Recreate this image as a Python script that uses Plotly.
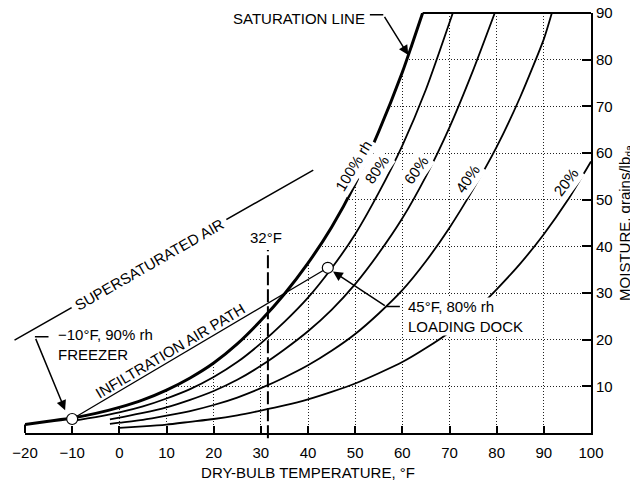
import plotly.graph_objects as go

FONT = "Liberation Sans, Arial, Helvetica, sans-serif"

# ---- axes ----
X_RANGE = [-20, 100]
Y_RANGE = [0, 90]
x_ticks = [-20, -10, 0, 10, 20, 30, 40, 50, 60, 70, 80, 90, 100]
y_ticks = [10, 20, 30, 40, 50, 60, 70, 80, 90]

# ---- curves: dry-bulb (°F) vs moisture (grains/lb dry air) ----
sat_t = [-20, -15, -10, -5, 0, 5, 10, 15, 20, 25, 30, 35, 40, 45, 50, 55, 60, 62, 64.3]
sat_w = [1.8, 2.5, 3.2, 4.2, 5.5, 7.1, 9.2, 11.8, 15.0, 19.1, 24.1, 29.8, 36.4, 44.1, 53.4, 64.6, 77.3, 83.1, 90.0]

rh80_t = [-10, -5, 0, 5, 10, 15, 20, 25, 30, 35, 40, 45, 50, 55, 60, 65, 70.7]
rh80_w = [2.6, 3.4, 4.4, 5.7, 7.4, 9.4, 12.0, 15.2, 19.2, 23.8, 29.0, 35.3, 42.6, 51.5, 61.6, 73.6, 90.0]

rh60_t = [-2, 0, 5, 10, 15, 20, 25, 30, 35, 40, 45, 50, 55, 60, 65, 70, 75, 79.6]
rh60_w = [2.9, 3.3, 4.3, 5.5, 7.1, 9.0, 11.4, 14.4, 17.9, 21.8, 26.4, 31.9, 38.5, 46.0, 55.0, 65.5, 77.7, 90.0]

rh40_t = [-2, 0, 5, 10, 15, 20, 25, 30, 35, 40, 45, 50, 55, 60, 65, 70, 75, 80, 85, 90, 91.7]
rh40_w = [1.95, 2.2, 2.8, 3.7, 4.7, 6.0, 7.6, 9.6, 11.9, 14.5, 17.6, 21.2, 25.6, 30.6, 36.8, 44.0, 52.2, 61.3, 72.0, 84.4, 90.0]

rh20_t = [0, 5, 10, 15, 20, 25, 30, 35, 40, 45, 50, 55, 60, 65, 70, 75, 80, 85, 90, 95, 100]
rh20_w = [1.1, 1.4, 1.8, 2.4, 3.0, 3.8, 4.8, 5.9, 7.2, 8.8, 10.6, 12.8, 15.2, 18.2, 21.6, 25.8, 30.8, 36.3, 42.6, 49.8, 58.2]

# ---- state points & infiltration path ----
point_names = ["FREEZER", "LOADING DOCK"]
point_t = [-10, 44.2]
point_w = [3.0, 35.4]

freeze_line_t = 31.5
freeze_line_w = [-1.1, 39.2]

fig = go.Figure()

# white mask above the saturation line (hides grid there)
fig.add_trace(go.Scatter(
    x=sat_t + [X_RANGE[0], X_RANGE[0]],
    y=sat_w + [Y_RANGE[1], sat_w[0]],
    fill="toself", fillcolor="white", mode="lines",
    line=dict(width=0, color="white"), hoverinfo="skip", showlegend=False))

for t, w, lw in [(rh20_t, rh20_w, 1.8), (rh40_t, rh40_w, 1.8), (rh60_t, rh60_w, 1.8),
                 (rh80_t, rh80_w, 1.8), (sat_t, sat_w, 3.0)]:
    fig.add_trace(go.Scatter(x=t, y=w, mode="lines",
                             line=dict(color="black", width=lw, shape="spline", smoothing=0.6),
                             hoverinfo="skip", showlegend=False))

# infiltration air path
fig.add_trace(go.Scatter(x=point_t, y=point_w, mode="lines",
                         line=dict(color="black", width=1.3),
                         hoverinfo="skip", showlegend=False))

# state-point circles
fig.add_trace(go.Scatter(x=point_t, y=point_w, mode="markers", text=point_names,
                         marker=dict(symbol="circle", size=11, color="white",
                                     line=dict(color="black", width=1.2)),
                         cliponaxis=False, hoverinfo="text", showlegend=False))

yspan = Y_RANGE[1] - Y_RANGE[0]
shapes = [
    dict(type="line", xref="x", yref="paper", x0=sat_t[-1], x1=X_RANGE[1], y0=1, y1=1,
         line=dict(color="black", width=2)),
    dict(type="line", xref="paper", yref="y", x0=0, x1=0, y0=Y_RANGE[0], y1=sat_w[0],
         line=dict(color="black", width=2)),
    dict(type="line", xref="x", yref="paper", x0=freeze_line_t, x1=freeze_line_t,
         y0=(freeze_line_w[0] - Y_RANGE[0]) / yspan, y1=(freeze_line_w[1] - Y_RANGE[0]) / yspan,
         line=dict(color="black", width=2, dash="13px,4px")),
]

def seg(x0, y0, x1, y1, head=0, width=1.5):
    return dict(x=x1, y=y1, ax=x0, ay=y0, xref="x", yref="y", axref="x", ayref="y",
                text=" ", showarrow=True, arrowhead=head, arrowsize=1.3, arrowwidth=width,
                arrowcolor="black", standoff=0, startstandoff=0, font=dict(size=1))

def label(text, x, y, angle=0, bg=None, xanchor="center", align="center", pad=1):
    d = dict(x=x, y=y, xref="x", yref="y", text=text, showarrow=False, textangle=angle,
             xanchor=xanchor, yanchor="middle", align=align, borderpad=pad,
             font=dict(family=FONT, size=15, color="black"))
    if bg:
        d["bgcolor"] = bg
    return d

annotations = [
    seg(-22.54, 19.7, 41.12, 56.35, 0, 1.5),
    seg(52.8, 89.6, 55.96, 89.6, 0, 1.5),
    seg(55.96, 89.6, 61.26, 81.0, 2, 1.5),
    seg(-14.7, 20.6, -17.9, 20.6, 0, 1.5),
    seg(-17.9, 20.6, -11.5, 4.9, 2, 1.5),
    seg(59.8, 27.1, 56.6, 27.1, 0, 1.5),
    seg(56.6, 27.1, 45.3, 34.6, 2, 1.5),
    label("SUPERSATURATED AIR", 6.33, 36.1, -29.7, "white", pad=4),
    label("INFILTRATION AIR PATH", 10.9, 17.6, -30.6),
    label("SATURATION LINE", 38.1, 88.9),
    label("32°F", 31.2, 41.9),
    label("−10°F, 90% rh<br>FREEZER", -13.43, 19.05, xanchor="left", align="left"),
    label("45°F, 80% rh<br>LOADING DOCK", 61.05, 25.0, bg="white", xanchor="left", align="left", pad=0),
    label("100% rh", 49.6, 57.4, -59, "white", pad=2),
    label("80%", 54.6, 56.4, -56, "white", pad=2),
    label("60%", 63.0, 56.4, -54.5, "white", pad=2),
    label("40%", 73.8, 54.6, -55.5, "white", pad=2),
    label("20%", 94.8, 53.8, -53, "white", pad=2),
]

axis_font = dict(family=FONT, size=15, color="black")
fig.update_layout(
    width=638, height=486,
    autosize=False,
    margin=dict(l=17, r=55, t=5, b=61, pad=0, autoexpand=False),
    paper_bgcolor="white", plot_bgcolor="white",
    font=axis_font,
    shapes=shapes, annotations=annotations,
    xaxis=dict(range=X_RANGE, tickvals=x_ticks, ticks="inside", ticklen=7, tickwidth=1.5,
               tickcolor="black", showline=True, linewidth=2, linecolor="black",
               showgrid=True, gridcolor="#222", griddash="1px,2px", gridwidth=1,
               zeroline=False, tickfont=axis_font, automargin=False, ticklabelstandoff=5,
               ticklabeloverflow="allow",
               title=dict(text="DRY-BULB TEMPERATURE, °F", font=axis_font, standoff=7)),
    yaxis=dict(range=Y_RANGE, tickvals=y_ticks, side="right", ticks="inside", ticklen=9,
               tickwidth=1.5, tickcolor="black", showline=True, linewidth=2, linecolor="black",
               showgrid=True, gridcolor="#222", griddash="1px,2px", gridwidth=1,
               zeroline=False, tickfont=axis_font, automargin=False,
               ticklabeloverflow="allow",
               title=dict(text="MOISTURE, grains/lb<sub>da</sub>", font=axis_font, standoff=8)),
)

fig.write_html("out.html")
